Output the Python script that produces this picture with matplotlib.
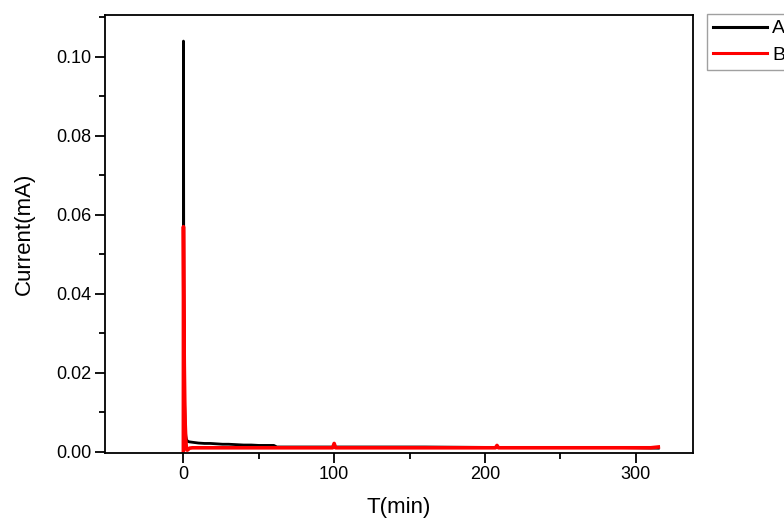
import matplotlib
matplotlib.use('Agg')
import matplotlib.pyplot as plt
from matplotlib.ticker import MultipleLocator, FixedLocator

plt.rcParams['font.family'] = ['Liberation Sans', 'DejaVu Sans']

# Series A (black)
t_a = [0, 0.05, 0.1, 0.2, 0.3, 0.5, 0.8, 1.2, 1.6, 2.0, 2.5, 3, 4, 6, 8, 10, 14, 18, 22,
       26, 30, 35, 40, 45, 50, 55, 60, 62, 80, 120, 160, 200, 240, 280, 300, 315]
i_a = [0.0, 0.104, 0.092, 0.060, 0.040, 0.022, 0.012, 0.006, 0.0040, 0.0032, 0.0028, 0.0026,
       0.0025, 0.0024, 0.0023, 0.0022, 0.0021, 0.0021, 0.0020, 0.0019, 0.0019, 0.0018,
       0.0017, 0.0017, 0.0016, 0.0016, 0.0016, 0.0012, 0.0012, 0.0012, 0.0012, 0.0011,
       0.0011, 0.0011, 0.0010, 0.0009]

# Series B (red)
t_b = [0, 0.05, 0.2, 0.4, 0.6, 0.9, 1.2, 1.6, 2.0, 2.5, 3, 4, 6, 10, 20, 40, 60, 80, 99,
       100, 101, 120, 150, 180, 200, 207, 208, 209, 230, 260, 290, 310, 315]
i_b = [0.0, 0.057, 0.045, 0.032, 0.022, 0.013, 0.007, 0.003, 0.0008, 0.0004, 0.0005, 0.0009,
       0.0010, 0.0010, 0.0010, 0.0010, 0.0010, 0.0010, 0.0010, 0.0021, 0.0010, 0.0010,
       0.0010, 0.0010, 0.0010, 0.0010, 0.0016, 0.0010, 0.0010, 0.0010, 0.0010, 0.0010,
       0.0012]

fig = plt.figure(figsize=(7.84, 5.18), dpi=100)
ax = fig.add_axes([0.1339, 0.1264, 0.7500, 0.8446])

ax.plot(t_a, i_a, color='black', lw=2.0, label='A')
ax.plot(t_b, i_b, color='red', lw=2.6, label='B')

ax.set_xlim(-52, 338)
ax.set_ylim(-0.0002, 0.1106)
ax.xaxis.set_major_locator(MultipleLocator(100))
ax.xaxis.set_minor_locator(FixedLocator([50, 150, 250]))
ax.yaxis.set_major_locator(MultipleLocator(0.02))
ax.yaxis.set_minor_locator(MultipleLocator(0.01))
ax.yaxis.set_major_formatter(plt.FormatStrFormatter('%.2f'))
ax.tick_params(which='major', direction='out', length=7, width=1.3, labelsize=13, pad=3)
ax.tick_params(which='minor', direction='out', length=4, width=1.3)
for s in ax.spines.values():
    s.set_linewidth(1.3)

ax.set_xlabel('T(min)', fontsize=16, labelpad=10)
ax.set_ylabel('Current(mA)', fontsize=16, labelpad=15)

leg = fig.legend(loc='upper left', bbox_to_anchor=(0.9018, 0.973), fontsize=14,
                 frameon=True, fancybox=False, edgecolor='#888888', handlelength=2.8,
                 borderaxespad=0, borderpad=0.3, labelspacing=0.45, handletextpad=0.25)
leg.get_frame().set_linewidth(1)
for line in leg.get_lines():
    line.set_linewidth(2.2)

fig.savefig('out.png', dpi=100)
